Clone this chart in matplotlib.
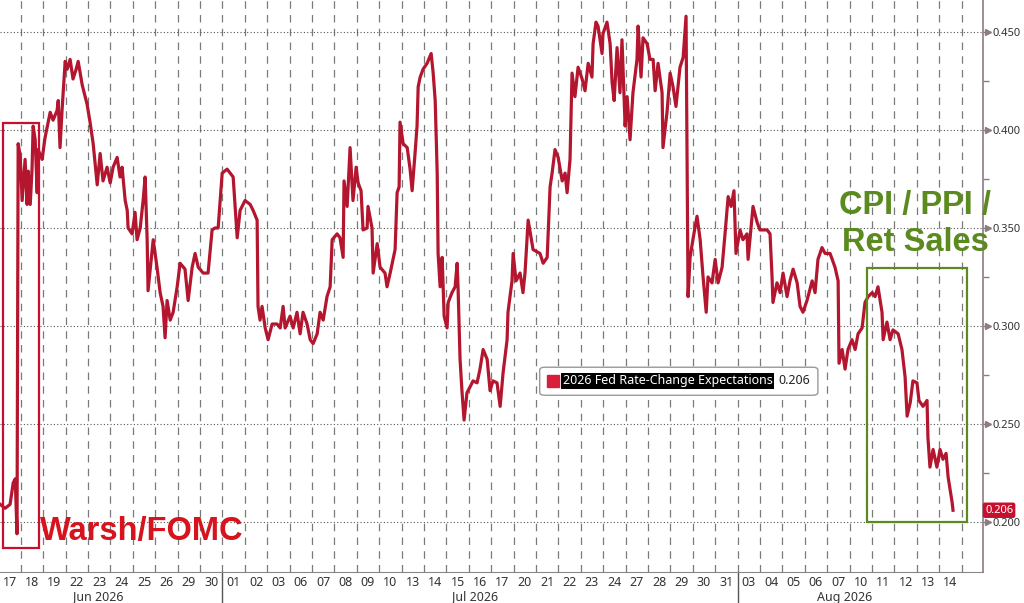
import numpy as np
import matplotlib.pyplot as plt
from matplotlib.patches import Rectangle, FancyBboxPatch

# one slot per trading day, Jun 17 .. Aug 14
day_labels = ['17', '18', '19', '22', '23', '24', '25', '26', '29', '30',
              '01', '02', '03', '06', '07', '08', '09', '10', '13', '14',
              '15', '16', '17', '20', '21', '22', '23', '24', '27', '28',
              '29', '30', '31',
              '03', '04', '05', '06', '07', '10', '11', '12', '13', '14']
month_labels = ['Jun 2026', 'Jul 2026', 'Aug 2026']
month_label_pos = [4.45, 21.3, 37.8]
month_starts = [10, 33]

# intraday path, x in trading days since the Jun 17 open
t = [0.08, 0.30, 0.52, 0.66, 0.75, 0.83, 0.88, 0.97, 1.06, 1.19,
     1.28, 1.33, 1.42, 1.50, 1.55, 1.64, 1.73, 1.77, 1.95, 2.08,
     2.31, 2.44, 2.62, 2.67, 2.75, 2.84, 2.98, 3.07, 3.20, 3.33,
     3.47, 3.56, 3.74, 3.96, 4.09, 4.23, 4.41, 4.54, 4.67, 4.85,
     4.99, 5.12, 5.30, 5.43, 5.52, 5.66, 5.75, 5.79, 5.97, 6.10,
     6.19, 6.33, 6.46, 6.55, 6.64, 6.68, 6.91, 7.08, 7.22, 7.35,
     7.44, 7.53, 7.67, 7.80, 7.98, 8.11, 8.33, 8.47, 8.65, 8.78,
     8.92, 9.14, 9.36, 9.54, 9.67, 9.81, 9.99, 10.21, 10.48, 10.66,
     10.79, 11.01, 11.24, 11.37, 11.55, 11.59, 11.68,
     11.77, 11.91, 12.04, 12.22, 12.44, 12.58, 12.71, 12.80, 13.02, 13.16,
     13.33, 13.47, 13.60, 13.78, 13.92, 14.05, 14.23, 14.36, 14.50, 14.67,
     14.81, 14.90, 15.12, 15.25, 15.39, 15.43, 15.57, 15.70, 15.83, 15.97,
     16.06, 16.19, 16.28, 16.46, 16.50, 16.68, 16.73, 16.91, 17.04, 17.26,
     17.35, 17.49, 17.62, 17.71, 17.80, 17.89, 17.93, 18.07, 18.25, 18.38,
     18.47, 18.60, 18.69, 18.74, 18.83, 18.96, 19.14, 19.32, 19.41, 19.50,
     19.59, 19.63, 19.72, 19.81, 19.90, 20.03, 20.08, 20.25, 20.39, 20.48,
     20.52, 20.61, 20.70, 20.79, 20.92, 21.06, 21.19, 21.37, 21.50, 21.64,
     21.82, 21.95, 22.08, 22.26, 22.40, 22.53, 22.71, 22.75, 22.93, 22.98,
     23.11, 23.29, 23.42, 23.51, 23.65, 23.87, 24.18, 24.32, 24.50, 24.63,
     24.72, 24.85, 24.99, 25.17, 25.30, 25.39, 25.52, 25.61, 25.74, 25.88,
     26.06, 26.19, 26.33, 26.50, 26.55, 26.68, 26.77, 26.95, 26.99, 27.17,
     27.31, 27.40, 27.49, 27.62, 27.75, 27.84, 27.98, 28.07, 28.20, 28.33,
     28.51, 28.56, 28.69, 28.78, 28.96, 29.09, 29.23, 29.32, 29.45, 29.63,
     29.67, 29.85, 29.99, 30.12, 30.25, 30.43, 30.57, 30.70, 30.79, 30.88,
     31.02, 31.19, 31.33, 31.46, 31.60, 31.68, 31.86, 32.00, 32.13, 32.31,
     32.44, 32.58, 32.71, 32.84, 32.93, 33.11, 33.24, 33.42, 33.47, 33.69,
     33.87, 34.00, 34.32, 34.45, 34.54, 34.58, 34.76, 34.90, 35.03, 35.21,
     35.34, 35.48, 35.66, 35.79, 35.92, 36.10, 36.33, 36.46, 36.59, 36.77,
     36.91, 37.13, 37.35, 37.49, 37.53, 37.67, 37.80, 37.93, 38.11, 38.25,
     38.38, 38.56, 38.69, 38.83, 39.01, 39.14, 39.27, 39.45, 39.50, 39.67,
     39.81, 39.94, 40.17, 40.34, 40.48, 40.57, 40.71, 40.83, 41.01, 41.10,
     41.28, 41.46, 41.50, 41.59, 41.73, 41.90, 42.04, 42.17, 42.31, 42.40,
     42.58, 42.62]

rate = [0.209, 0.207, 0.209, 0.220, 0.222, 0.194, 0.393, 0.387, 0.364, 0.385,
        0.362, 0.379, 0.362, 0.380, 0.402, 0.395, 0.368, 0.390, 0.385, 0.396,
        0.409, 0.405, 0.410, 0.415, 0.391, 0.410, 0.435, 0.431, 0.436, 0.426,
        0.431, 0.435, 0.423, 0.413, 0.404, 0.393, 0.372, 0.388, 0.374, 0.381,
        0.373, 0.381, 0.386, 0.376, 0.381, 0.364, 0.359, 0.350, 0.347, 0.358,
        0.344, 0.350, 0.364, 0.376, 0.344, 0.318, 0.344, 0.330, 0.317, 0.310,
        0.294, 0.313, 0.303, 0.307, 0.320, 0.332, 0.329, 0.313, 0.330, 0.337,
        0.330, 0.327, 0.327, 0.349, 0.350, 0.350, 0.378, 0.380, 0.376, 0.345,
        0.359, 0.364, 0.362, 0.359, 0.354, 0.310, 0.303,
        0.310, 0.299, 0.293, 0.301, 0.301, 0.299, 0.310, 0.299, 0.305, 0.299,
        0.307, 0.296, 0.307, 0.301, 0.293, 0.291, 0.296, 0.307, 0.303, 0.315,
        0.320, 0.344, 0.347, 0.345, 0.335, 0.374, 0.361, 0.391, 0.364, 0.381,
        0.373, 0.369, 0.349, 0.350, 0.361, 0.350, 0.327, 0.342, 0.330, 0.327,
        0.320, 0.327, 0.334, 0.339, 0.368, 0.371, 0.404, 0.393, 0.391, 0.380,
        0.369, 0.388, 0.402, 0.422, 0.427, 0.431, 0.434, 0.439, 0.429, 0.415,
        0.378, 0.337, 0.320, 0.335, 0.305, 0.299, 0.312, 0.317, 0.320, 0.332,
        0.320, 0.283, 0.266, 0.252, 0.266, 0.269, 0.272, 0.271, 0.278, 0.288,
        0.283, 0.267, 0.272, 0.271, 0.259, 0.276, 0.293, 0.307, 0.323, 0.337,
        0.323, 0.327, 0.317, 0.327, 0.354, 0.339, 0.337, 0.332, 0.335, 0.371,
        0.378, 0.390, 0.386, 0.374, 0.378, 0.368, 0.385, 0.429, 0.417, 0.432,
        0.426, 0.420, 0.434, 0.427, 0.444, 0.455, 0.453, 0.439, 0.449, 0.455,
        0.444, 0.424, 0.415, 0.442, 0.419, 0.446, 0.402, 0.417, 0.395, 0.419,
        0.436, 0.453, 0.427, 0.447, 0.444, 0.436, 0.436, 0.420, 0.434, 0.419,
        0.391, 0.409, 0.429, 0.422, 0.412, 0.432, 0.437, 0.458, 0.315, 0.335,
        0.345, 0.356, 0.344, 0.325, 0.307, 0.325, 0.322, 0.334, 0.322, 0.330,
        0.347, 0.366, 0.361, 0.369, 0.337, 0.349, 0.344, 0.347, 0.334, 0.361,
        0.353, 0.349, 0.349, 0.347, 0.325, 0.312, 0.322, 0.317, 0.327, 0.315,
        0.323, 0.329, 0.322, 0.310, 0.307, 0.313, 0.323, 0.317, 0.334, 0.340,
        0.337, 0.337, 0.330, 0.323, 0.281, 0.288, 0.278, 0.288, 0.293, 0.288,
        0.296, 0.299, 0.312, 0.315, 0.317, 0.315, 0.320, 0.307, 0.293, 0.302,
        0.293, 0.298, 0.296, 0.288, 0.274, 0.254, 0.261, 0.272, 0.271, 0.262,
        0.259, 0.262, 0.243, 0.228, 0.237, 0.228, 0.237, 0.232, 0.235, 0.223,
        0.210, 0.206]

last_value = 0.206
y_major = [0.20, 0.25, 0.30, 0.35, 0.40, 0.45]
y_minor = [0.225, 0.275, 0.325, 0.375, 0.425]

plt.rcParams['font.family'] = ['Noto Sans', 'DejaVu Sans']

fig = plt.figure(figsize=(10.24, 6.03), dpi=100)
ax = fig.add_axes([0.0, 0.0514, 0.960, 0.9486])

ax.plot(t, rate, color='#b3162e', lw=2.3, zorder=3, solid_joinstyle='round')

ax.set_xlim(0.07, 43.96)
ax.set_ylim(0.1745, 0.4663)

# x axis: gridlines on day boundaries, labels in the middle of each day
n_days = len(day_labels)
ax.set_xticks(np.arange(n_days) + 0.5)
ax.set_xticklabels(day_labels)
ax.set_xticks(np.arange(1, n_days + 1), minor=True)
ax.tick_params(axis='x', which='both', length=0, pad=3, labelsize=9, labelcolor='#333333')
ax.grid(axis='x', which='minor', color='#7a7a7a', lw=0.9, linestyle=(0, (6, 5)))

for m in month_starts:
    ax.plot([m, m], [0, -0.06], transform=ax.get_xaxis_transform(),
            color='#555555', lw=1, clip_on=False)
for lab, pos in zip(month_labels, month_label_pos):
    ax.text(pos, -0.0437, lab, transform=ax.get_xaxis_transform(),
            ha='center', va='center', fontsize=9, color='#333333')

# y axis on the right
ax.yaxis.tick_right()
ax.set_yticks(y_major)
ax.set_yticklabels([f'{v:.3f}' for v in y_major])
ax.set_yticks(y_minor, minor=True)
ax.tick_params(axis='y', which='major', length=4, width=1, color='#8c7c84',
               pad=3, labelsize=8, labelcolor='#333333')
ax.tick_params(axis='y', which='minor', length=4, width=1, color='#8c7c84')
ax.plot([1.005] * len(y_major), y_major, transform=ax.get_yaxis_transform(),
        marker='>', ms=4, color='#8c7c84', ls='none', clip_on=False)
ax.grid(axis='y', which='major', color='#555555', lw=0.8, linestyle=(0, (1, 2)))

for s in ['left', 'top']:
    ax.spines[s].set_visible(False)
ax.spines['bottom'].set_color('#888888')
ax.spines['right'].set_color('#8c7c84')
ax.spines['right'].set_linewidth(1.2)

# annotations
ax.add_patch(Rectangle((0.22, 0.1867), 1.57, 0.2169, fill=False,
                       ec='#c8102e', lw=1.6, zorder=4))
ax.text(0.0407, 0.056, 'Warsh/FOMC', transform=ax.transAxes, fontsize=23.5,
        fontweight='bold', color='#d7141e', family='Liberation Sans',
        ha='left', va='baseline', zorder=4)

ax.add_patch(Rectangle((38.77, 0.1998), 4.46, 0.1299, fill=False,
                       ec='#5b8a1e', lw=1.6, zorder=4))
ax.text(0.931, 0.608, 'CPI / PPI /\nRet Sales', transform=ax.transAxes,
        ha='center', va='center', multialignment='center', fontsize=23.5,
        fontweight='bold', color='#5b8a1e', family='Liberation Sans',
        linespacing=1.25, zorder=4)

# legend box
ax.add_patch(FancyBboxPatch((0.549, 0.309), 0.283, 0.049,
                            boxstyle='round,pad=0,rounding_size=0.005',
                            transform=ax.transAxes, fc='white', ec='#999999',
                            lw=1, zorder=5))
ax.plot([0.5626], [0.334], marker='s', ms=8, color='#d81e3a',
        transform=ax.transAxes, zorder=6)
ax.text(0.5727, 0.334, '2026 Fed Rate-Change Expectations', transform=ax.transAxes,
        ha='left', va='center', fontsize=9, color='white',
        bbox=dict(boxstyle='square,pad=0.12', fc='black', ec='none'), zorder=6)
ax.text(0.7915, 0.334, f'{last_value:.3f}', transform=ax.transAxes,
        ha='left', va='center', fontsize=9, color='#222222', zorder=6)

# last value tag on the axis
ax.text(1.002, last_value, f'{last_value:.3f}', transform=ax.get_yaxis_transform(),
        ha='left', va='center', fontsize=8, color='white',
        bbox=dict(boxstyle='round,pad=0.2', fc='#c8102e', ec='none'),
        zorder=10, clip_on=False)

fig.savefig('out.png', dpi=100)
